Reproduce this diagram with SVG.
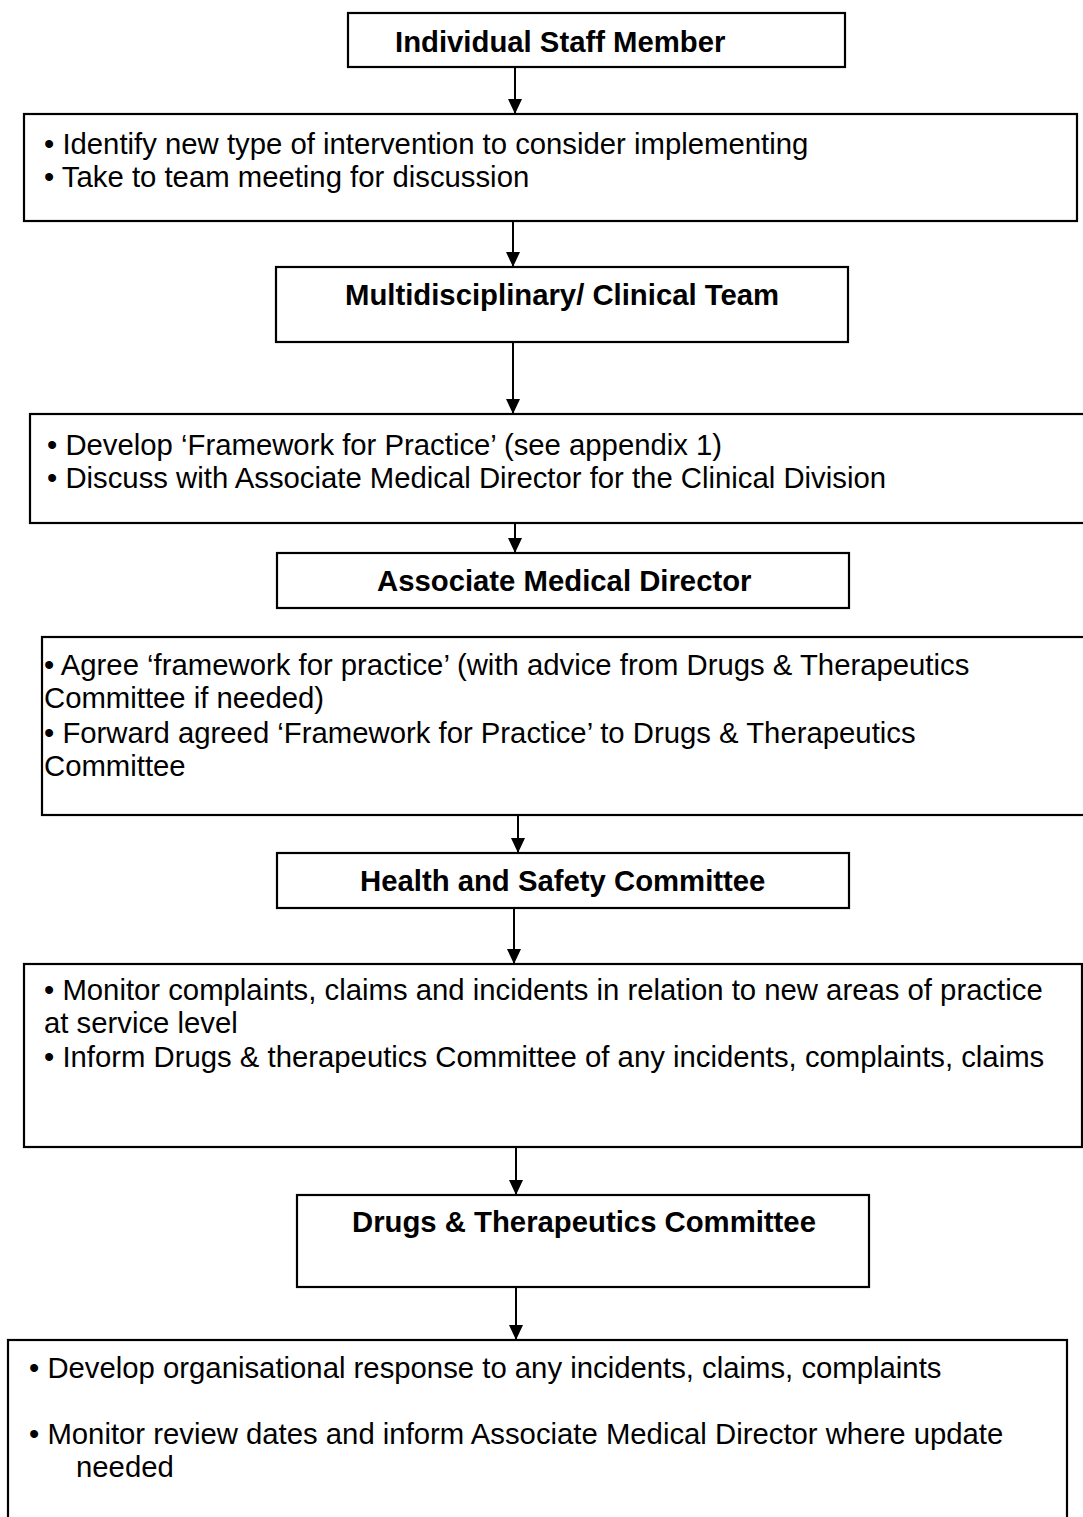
<svg xmlns="http://www.w3.org/2000/svg" width="1083" height="1517" viewBox="0 0 1083 1517">
  <style>
    .box { fill: #ffffff; stroke: #000000; stroke-width: 2.2; }
    .title { font-family: "Liberation Sans", Arial, sans-serif; font-size: 29.3px; font-weight: bold; fill: #000000; }
    .body { font-family: "Liberation Sans", Arial, sans-serif; font-size: 29.3px; fill: #000000; }
    .link { stroke: #000000; stroke-width: 2; fill: none; marker-end: url(#head); }
  </style>
  <defs>
    <marker id="head" markerUnits="userSpaceOnUse" markerWidth="16" markerHeight="15" refX="15" refY="7.5" orient="auto">
      <path d="M0,0.5 L15,7.5 L0,14.5 z" fill="#000000"/>
    </marker>
  </defs>
  <rect width="1083" height="1517" fill="#ffffff"/>

  <g id="connectors">
    <line class="link" x1="515" y1="67" x2="515" y2="114"/>
    <line class="link" x1="513" y1="221" x2="513" y2="267"/>
    <line class="link" x1="513" y1="342" x2="513" y2="414"/>
    <line class="link" x1="515" y1="523" x2="515" y2="553"/>
    <line class="link" x1="518" y1="815" x2="518" y2="853"/>
    <line class="link" x1="514" y1="908" x2="514" y2="964"/>
    <line class="link" x1="516" y1="1147" x2="516" y2="1195"/>
    <line class="link" x1="516" y1="1287" x2="516" y2="1340"/>
  </g>

  <g id="staff-member">
    <rect class="box" x="348" y="13" width="497" height="54"/>
    <text class="title" x="395" y="52">Individual Staff Member</text>
  </g>

  <g id="identify">
    <rect class="box" x="24" y="114" width="1053" height="107"/>
    <text class="body" x="44" y="154">• Identify new type of intervention to consider implementing</text>
    <text class="body" x="44" y="187">• Take to team meeting for discussion</text>
  </g>

  <g id="clinical-team">
    <rect class="box" x="276" y="267" width="572" height="75"/>
    <text class="title" x="345" y="305">Multidisciplinary/ Clinical Team</text>
  </g>

  <g id="develop-framework">
    <rect class="box" x="30" y="414" width="1070" height="109"/>
    <text class="body" x="47" y="455">• Develop ‘Framework for Practice’ (see appendix 1)</text>
    <text class="body" x="47" y="488">• Discuss with Associate Medical Director for the Clinical Division</text>
  </g>

  <g id="medical-director">
    <rect class="box" x="277" y="553" width="572" height="55"/>
    <text class="title" x="377" y="591">Associate Medical Director</text>
  </g>

  <g id="agree-framework">
    <rect class="box" x="42" y="637" width="1060" height="178"/>
    <text class="body" x="44" y="675">• Agree ‘framework for practice’ (with advice from Drugs &amp; Therapeutics</text>
    <text class="body" x="44" y="708">Committee if needed)</text>
    <text class="body" x="44" y="743">• Forward agreed ‘Framework for Practice’ to Drugs &amp; Therapeutics</text>
    <text class="body" x="44" y="776">Committee</text>
  </g>

  <g id="health-safety">
    <rect class="box" x="277" y="853" width="572" height="55"/>
    <text class="title" x="360" y="891">Health and Safety Committee</text>
  </g>

  <g id="monitor-incidents">
    <rect class="box" x="24" y="964" width="1058" height="183"/>
    <text class="body" x="44" y="1000">• Monitor complaints, claims and incidents in relation to new areas of practice</text>
    <text class="body" x="44" y="1033">at service level</text>
    <text class="body" x="44" y="1067">• Inform Drugs &amp; therapeutics Committee of any incidents, complaints, claims</text>
  </g>

  <g id="drugs-therapeutics">
    <rect class="box" x="297" y="1195" width="572" height="92"/>
    <text class="title" x="352" y="1232">Drugs &amp; Therapeutics Committee</text>
  </g>

  <g id="organisational-response">
    <rect class="box" x="8" y="1340" width="1059" height="200"/>
    <text class="body" x="29" y="1378">• Develop organisational response to any incidents, claims, complaints</text>
    <text class="body" x="29" y="1444">• Monitor review dates and inform Associate Medical Director where update</text>
    <text class="body" x="76" y="1477">needed</text>
  </g>
</svg>
